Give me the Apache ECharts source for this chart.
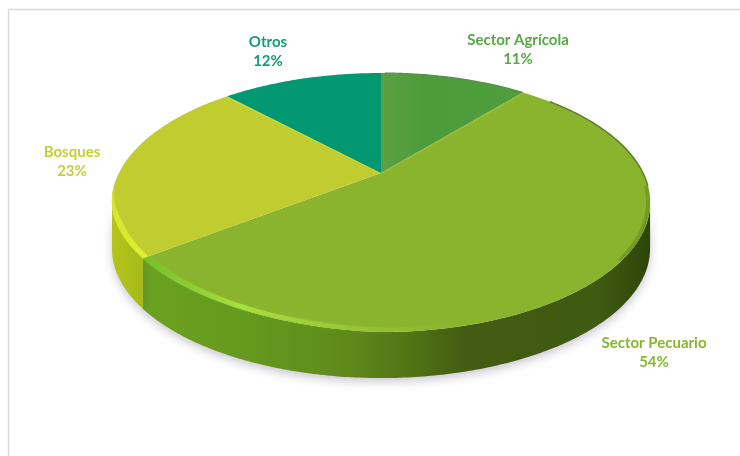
<!DOCTYPE html>
<html>
<head>
<meta charset="utf-8">
<style>html,body{margin:0;padding:0;background:#fff;overflow:hidden}#c{width:740px;height:456px;filter:blur(0.4px)}</style>
<script src="https://cdn.jsdelivr.net/npm/echarts@6/dist/echarts.min.js"></script>
</head>
<body>
<div id="c"></div>
<script>
const categories = ['Sector Agrícola', 'Sector Pecuario', 'Bosques', 'Otros'];
const shares = [11, 54, 23, 12];
const topColors = ['#4f9e3c', '#8ab42e', '#c0cc30', '#029872'];
const textColors = ['#58a845', '#86b82f', '#c3d130', '#0f9e78'];
const labelAnchors = [[518, 50], [654, 353], [72, 162], [268, 52]];

const cx = 381, apexY = 173, A = 262, B = 122.8, K = 0.228, DEPTH = 46;
const FRONT_FROM = 103.2, FRONT_TO = 256.8;
function pt(deg, dy, flat) {
  const bump = (deg > 180 && deg < 270) ? Math.sin(2 * (deg - 180) * Math.PI / 180) : 0;
  const t = (deg - 3 * bump) * Math.PI / 180, w = 1 + K * Math.cos(t);
  return [cx + A * Math.sin(t) / w, apexY - B * Math.cos(t) / w + (dy || 0) - (flat ? 0 : 5 * bump)];
}
function arc(a, b, dy, flat) {
  const out = [], n = Math.max(2, Math.ceil(Math.abs(b - a) * 1.5));
  for (let i = 0; i <= n; i++) out.push(pt(a + (b - a) * i / n, dy, flat));
  return out;
}
// a band just inside the outer edge of the top face, tapering at its far end
function band(a, b, f, taper) {
  const n = arc(b, a, 0).length;
  const inner = arc(b, a, 0).map((p, j) => {
    const g = taper ? 1 - (1 - f) * Math.min(1, j / (n * 0.5)) : f;
    return [cx + (p[0] - cx) * g, apexY + (p[1] - apexY) * g];
  });
  return arc(a, b, 0).concat(inner);
}
const hGrad = (x0, x1, stops) => new echarts.graphic.LinearGradient(x0, 0, x1, 0,
  stops.map(s => ({offset: s[0], color: s[1]})), true);
const wallFills = {
  1: hGrad(143, 650, [[0, '#6aa21f'], [0.2, '#659a1e'], [0.4, '#5f8a1b'], [0.52, '#537516'], [0.64, '#425c12'], [0.9, '#3f5b11'], [1, '#2e4509']]),
  2: hGrad(113, 145, [[0, '#b4c41a'], [1, '#a5b816']])
};
const rimFills = {
  1: hGrad(143, 470, [[0, 'rgba(115,190,40,0.9)'], [0.3, 'rgba(168,226,60,0.95)'], [0.62, 'rgba(160,210,60,0.5)'], [1, 'rgba(140,180,45,0)']]),
  2: hGrad(113, 145, [[0, '#d6e42e'], [1, '#e0f02e']])
};
const topFills = {0: hGrad(381, 523, [[0, '#5ba043'], [0.3, '#4d9c3c'], [1, '#4f9e3c']])};
const total = shares.reduce((a, b) => a + b, 0);

function renderSlice(params, api) {
  const i = params.dataIndex;
  let before = 0;
  for (let j = 0; j < i; j++) before += shares[j];
  const a0 = before / total * 360, a1 = (before + api.value(0)) / total * 360;
  const children = [];
  const f0 = Math.max(a0, FRONT_FROM), f1 = Math.min(a1, FRONT_TO);
  if (f1 > f0) {
    const wall = arc(f0, f1, 0).concat(arc(f1, f0, DEPTH, true));
    children.push({type: 'polygon', shape: {points: wall}, style: {fill: wallFills[i] || topColors[i],
      shadowBlur: 10, shadowOffsetY: 4, shadowColor: 'rgba(70,60,90,0.28)'}});
  }
  const top = [[cx, apexY]].concat(arc(a0, a1, 0));
  children.push({type: 'polygon', shape: {points: top}, style: {fill: topFills[i] || topColors[i]}});
  if (rimFills[i]) {
    const from = i === 1 ? Math.max(f0, 128) : a0;
    children.push({type: 'polygon', shape: {points: band(from, i === 1 ? f1 : a0 + (f1 - a0) * 1.3, i === 1 ? 0.972 : 0.978, i === 2)},
      style: {fill: rimFills[i], shadowBlur: 2, shadowColor: i === 1 ? 'rgba(160,220,60,0.5)' : 'rgba(220,235,50,0.5)'}});
  }
  if (i === 1) {
    children.push({type: 'polyline', shape: {points: arc(48, 96, 0)},
      style: {fill: 'none', stroke: '#4f6f1c', lineWidth: 1.5, opacity: 0.85}});
    children.push({type: 'polygon', shape: {points: band(96, 128, 0.985)},
      style: {fill: '#6d9322', opacity: 0.75}});
    children.push({type: 'polyline', shape: {points: [[cx, apexY + 1], pt(a0, 1)]},
      style: {fill: 'none', stroke: '#9dbd35', lineWidth: 1}});
  }
  if (i === 2) {
    children.push({type: 'polyline', shape: {points: [pt(a1, 1), [cx, apexY]]},
      style: {fill: 'none', stroke: '#cdda40', lineWidth: 1.5}});
  }
  if (i === 0) {
    children.push({type: 'polyline', shape: {points: arc(a0 + 1, a1, 0)},
      style: {fill: 'none', stroke: '#5e8a50', lineWidth: 1.2}});
  }
  const [lx, ly] = labelAnchors[i];
  children.push({type: 'text', x: lx, y: ly, style: {
    text: categories[i] + '\n' + api.value(0) + '%',
    fill: textColors[i], font: 'bold 15px Lato', lineHeight: 19, align: 'center', verticalAlign: 'middle'}});
  return {type: 'group', children};
}

const chart = echarts.init(document.getElementById('c'), null, {renderer: 'canvas'});
chart.setOption({
  animation: false,
  backgroundColor: '#fff',
  graphic: [{type: 'polyline', silent: true, shape: {points: [[8.5, 456], [8.5, 9.5], [740, 9.5]]},
    style: {fill: 'none', stroke: '#d9d9d9', lineWidth: 1.5}}],
  series: [{
    type: 'custom',
    coordinateSystem: 'none',
    renderItem: renderSlice,
    data: shares.map(v => [v])
  }]
});
</script>
</body>
</html>
